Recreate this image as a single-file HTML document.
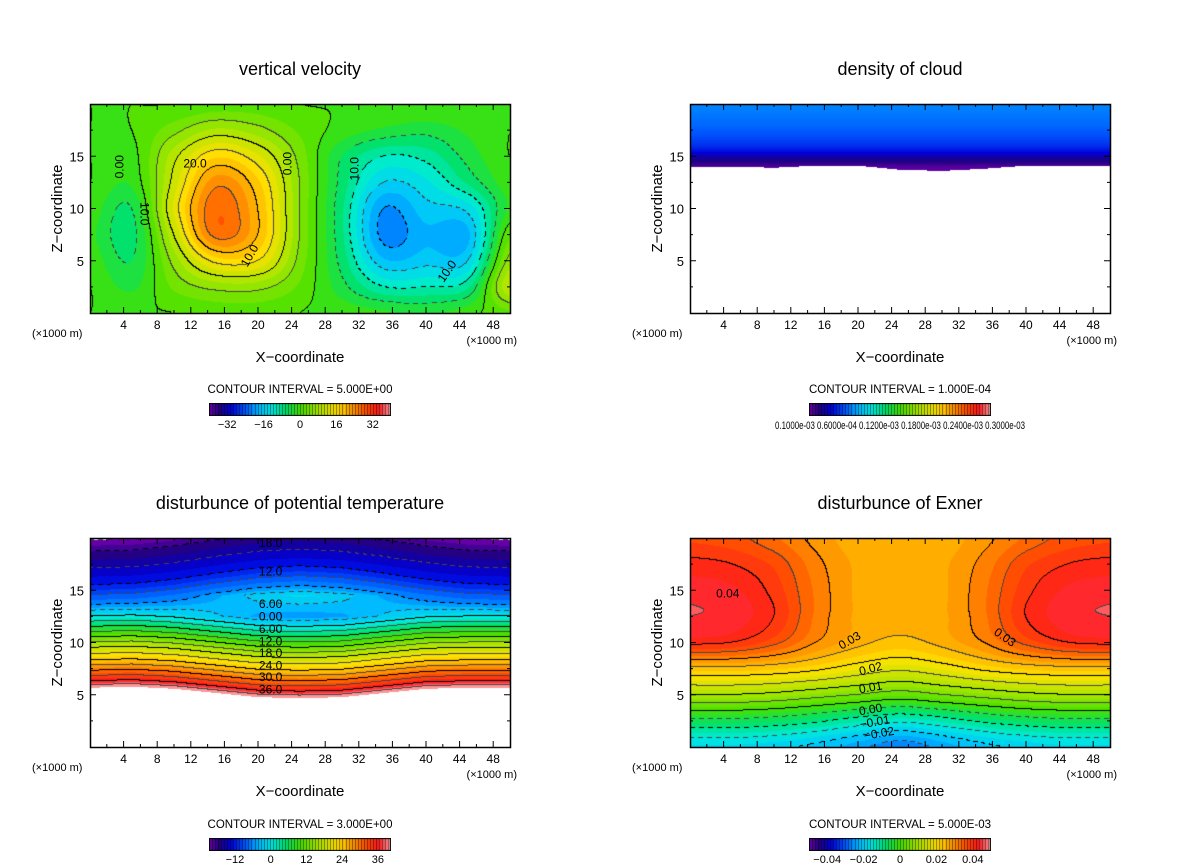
<!DOCTYPE html>
<html><head><meta charset="utf-8">
<style>
html,body{margin:0;padding:0;background:#fff;}
#root{position:relative;width:1200px;height:868px;overflow:hidden;font-family:"Liberation Sans",sans-serif;}
canvas{position:absolute;}
svg{position:absolute;left:0;top:0;}
</style></head>
<body>
<div id="root">
<canvas id="c0" width="420" height="209" style="left:90px;top:104px"></canvas>
<canvas id="c1" width="420" height="209" style="left:690px;top:104px"></canvas>
<canvas id="c2" width="420" height="209" style="left:90px;top:538px"></canvas>
<canvas id="c3" width="420" height="209" style="left:690px;top:538px"></canvas>
<canvas id="cb0" width="182" height="13" style="left:209px;top:403px"></canvas>
<canvas id="cb1" width="182" height="13" style="left:809px;top:403px"></canvas>
<canvas id="cb2" width="182" height="13" style="left:209px;top:838px"></canvas>
<canvas id="cb3" width="182" height="13" style="left:809px;top:838px"></canvas>
<svg id="ov" width="1200" height="868"></svg>
</div>
<script>
// ---------- data ----------
const xCoords=[0,5,10,15,20,25,30,35,40,45,50];
const zRows=[20,17.5,15,12.5,10,7.5,5,2.5,0];
const wGrid=[
[0,0,0,1,1,0,0,0,0,0,0],
[0,0,4,8,6,2,-1,-3,-4,-2,0],
[0,-1,9,17,13,4,-5,-10,-9,-4,0],
[0,-2,11,24,18,5,-6,-15,-13,-7,-1],
[-1,-5,13,27,20,5,-7,-20,-16,-14,-2],
[-2,-6,10,26,20,5,-7,-21,-18,-18,2],
[-1,-5,6,16,15,4,-6,-17,-16,-15,6],
[0,-3,3,6,6,2,-4,-10,-10,-8,10],
[0,0,0,1,1,0,-1,-2,-3,-1,2]];
const exGrid=[
[.037,.036,.033,.029,.026,.025,.026,.029,.033,.036,.037],
[.041,.040,.037,.031,.027,.026,.027,.031,.037,.040,.041],
[.044,.043,.039,.032,.027,.026,.027,.032,.039,.043,.044],
[.045,.044,.040,.032,.027,.026,.027,.032,.040,.044,.045],
[.041,.040,.036,.030,.026,.024,.026,.030,.036,.040,.041],
[.024,.024,.023,.021,.018,.016,.018,.021,.023,.024,.024],
[.010,.010,.009,.007,.005,.003,.005,.007,.009,.010,.010],
[-.006,-.006,-.007,-.009,-.012,-.014,-.012,-.009,-.007,-.006,-.006],
[-.018,-.018,-.019,-.021,-.024,-.027,-.024,-.021,-.019,-.018,-.018]];
const thProfZ=[0,4.5,5.8,6.3,7.3,8.3,9.5,10.5,11.5,12.5,13.6,15.5,18.7,20];
const thProfV=[60,45,40,36,30,24,18,12,6,0,-6,-12,-18,-21.5];
const thShiftLow=[0,-0.1,0.1,0.5,0.9,1.0,0.9,0.5,0.1,0,0];
const thShiftUp=[0,-0.1,-0.5,-1.1,-1.6,-1.8,-1.6,-1.1,-0.5,-0.1,0];
const cloudProfZ=[13.9,14.5,15,15.5,16,17,18,19,20];
const cloudProfV=[0.05,0.2,0.3,0.45,0.55,0.65,0.72,0.76,0.8];
const cloudBase=[14.0,14.0,13.9,14.1,14.1,13.7,13.6,13.8,14.1,14.1,14.1];
const xTicks=[4,8,12,16,20,24,28,32,36,40,44,48];
const zTicks=[5,10,15];
// ---------- helpers ----------
const stops=[[0,[110,0,170]],[0.06,[30,0,130]],[0.12,[0,0,220]],[0.2,[0,90,255]],[0.28,[0,190,255]],[0.35,[0,235,220]],[0.42,[0,225,110]],[0.5,[70,225,0]],[0.6,[170,230,0]],[0.7,[255,225,0]],[0.78,[255,160,0]],[0.86,[255,80,0]],[0.93,[255,25,30]],[1,[255,170,170]]];
function cmap(t){if(t<0)t=0;if(t>1)t=1;for(let i=1;i<stops.length;i++){if(t<=stops[i][0]){const a=stops[i-1],b=stops[i],f=(t-a[0])/(b[0]-a[0]);return a[1].map((v,j)=>Math.round(v+(b[1][j]-v)*f));}}return stops[stops.length-1][1];}
function interp1(xs,ys,x){if(x<=xs[0])return ys[0];for(let i=1;i<xs.length;i++){if(x<=xs[i]){const f=(x-xs[i-1])/(xs[i]-xs[i-1]);return ys[i-1]+(ys[i]-ys[i-1])*f;}}return ys[ys.length-1];}
function cr(p0,p1,p2,p3,t){return 0.5*((2*p1)+(-p0+p2)*t+(2*p0-5*p1+4*p2-p3)*t*t+(-p0+3*p1-3*p2+p3)*t*t*t);}
function bic(grid,x,z){const nr=grid.length,nc=grid[0].length;let fi=x/5;let i=Math.min(nc-2,Math.floor(fi));let fx=fi-i;let fj=(20-z)/2.5;let j=Math.min(nr-2,Math.floor(fj));let fz=fj-j;
 const g=(r,c)=>grid[Math.max(0,Math.min(nr-1,r))][Math.max(0,Math.min(nc-1,c))];
 const rows=[];for(let r=-1;r<=2;r++)rows.push(cr(g(j+r,i-1),g(j+r,i),g(j+r,i+1),g(j+r,i+2),fx));
 return cr(rows[0],rows[1],rows[2],rows[3],fz);}
const W=420,H=209;
function xOf(px){return px/W*50;} function zOf(py){return (H-py)/H*20;}
function render(id,fn,interval,vmin,vmax,lines,whiteOut){
  const cv=document.getElementById(id),ctx=cv.getContext('2d'),img=ctx.createImageData(W,H);
  const vals=new Float32Array(W*H);const fi=interval/2;
  for(let py=0;py<H;py++)for(let px=0;px<W;px++)vals[py*W+px]=fn(xOf(px+0.5),zOf(py+0.5));
  for(let py=0;py<H;py++)for(let px=0;px<W;px++){
    const v=vals[py*W+px];let col;
    if(isNaN(v)){col=[255,255,255];}
    else{const kf=Math.floor(v/fi);const t=((kf+0.5)*fi-vmin)/(vmax-vmin);
      col=(whiteOut&&(t>1||t<0))?[255,255,255]:cmap(t);
      const k=Math.floor(v/interval);
      if(lines){const kr=px<W-1?Math.floor(vals[py*W+px+1]/interval):k;const kb=py<H-1?Math.floor(vals[(py+1)*W+px]/interval):k;
        if(!isNaN(kr)&&!isNaN(kb)&&(kr!==k||kb!==k)){const kk=Math.max(k,kr,kb);const lvl=kk*interval;
          if(!(whiteOut&&((lvl-vmin)/(vmax-vmin)>1.0)))
          if(lvl>=-1e-9||((px+py)%9<5)){const m=(kk%2===0)?0:70;col=[m,m,m];}}}}
    const o=(py*W+px)*4;img.data[o]=col[0];img.data[o+1]=col[1];img.data[o+2]=col[2];img.data[o+3]=255;}
  ctx.putImageData(img,0,0);
}
render('c0',(x,z)=>bic(wGrid,x,z),5,-40,40,true,false);
render('c3',(x,z)=>bic(exGrid,x,z),0.005,-0.05,0.05,true,false);
render('c2',(x,z)=>{const sl=interp1(xCoords,thShiftLow,x),su=interp1(xCoords,thShiftUp,x);let f=(z-12.5)/2;f=Math.max(0,Math.min(1,f));return interp1(thProfZ,thProfV,z+sl*(1-f)+su*f);},3,-20.7,40.4,true,true);
render('c1',(x,z)=>{const b=interp1(xCoords,cloudBase,x);if(z<b)return NaN;return interp1(cloudProfZ,cloudProfV,z)*1e-4;},0.1e-5,0,3.4e-4,false,false);
function cbar(id){const cv=document.getElementById(id),ctx=cv.getContext('2d');const n=60;
  for(let i=0;i<n;i++){const c=cmap((i+0.5)/n);ctx.fillStyle='rgb('+c+')';ctx.fillRect(i*182/n,0,182/n+1,13);ctx.fillStyle='rgba(0,0,0,0.5)';ctx.fillRect(Math.round(i*182/n),0,1,13);}
  ctx.strokeStyle='#000';ctx.strokeRect(0.5,0.5,181,12);}
['cb0','cb1','cb2','cb3'].forEach(cbar);
// ---------- overlay ----------
const ns='http://www.w3.org/2000/svg',ov=document.getElementById('ov');
function el(tag,attrs,txt){const e=document.createElementNS(ns,tag);for(const k in attrs)e.setAttribute(k,attrs[k]);if(txt!==undefined)e.textContent=txt;ov.appendChild(e);return e;}
const panels=[
 {x0:90,y0:104,title:'vertical velocity',ci:'CONTOUR INTERVAL = 5.000E+00',cbx:209,cby:403,cbl:[['−32',-32],['−16',-16],['0',0],['16',16],['32',32]],cbr:[-40,40]},
 {x0:690,y0:104,title:'density of cloud',ci:'CONTOUR INTERVAL = 1.000E-04',cbx:809,cby:403,cbl:null,cbr:[0,1]},
 {x0:90,y0:538,title:'disturbunce of potential temperature',ci:'CONTOUR INTERVAL = 3.000E+00',cbx:209,cby:838,cbl:[['−12',-12],['0',0],['12',12],['24',24],['36',36]],cbr:[-20.7,40.4]},
 {x0:690,y0:538,title:'disturbunce of Exner',ci:'CONTOUR INTERVAL = 5.000E-03',cbx:809,cby:838,cbl:[['−0.04',-0.04],['−0.02',-0.02],['0',0],['0.02',0.02],['0.04',0.04]],cbr:[-0.05,0.05]}];
const names=['velocity','cloud','theta','exner'];
panels.forEach((p,pi)=>{
  const cx=p.x0+210,X=v=>p.x0+v/50*W,Y=v=>p.y0+H-v/20*H;
  let e;
  e=el('text',{x:cx,y:p.y0-29,'text-anchor':'middle','font-size':18,fill:'#000'},p.title);
  
  
  e=el('rect',{x:p.x0+0.5,y:p.y0+0.5,width:W,height:H,fill:'none',stroke:'#000','stroke-width':1.5});
  
  
  for(let v=2;v<50;v+=2){const maj=v%4===0;const L=maj?6:3;
    el('line',{x1:X(v),x2:X(v),y1:p.y0+H,y2:p.y0+H-L,stroke:'#000'});
    el('line',{x1:X(v),x2:X(v),y1:p.y0,y2:p.y0+L,stroke:'#000'});}
  xTicks.forEach(v=>{e=el('text',{x:X(v),y:p.y0+H+16,'text-anchor':'middle','font-size':12},String(v));
    
    });
  for(let v=2.5;v<20;v+=2.5){const maj=v%5===0;const L=maj?6:3;
    el('line',{x1:p.x0,x2:p.x0+L,y1:Y(v),y2:Y(v),stroke:'#000'});
    el('line',{x1:p.x0+W,x2:p.x0+W-L,y1:Y(v),y2:Y(v),stroke:'#000'});}
  zTicks.forEach(v=>{e=el('text',{x:p.x0-6,y:Y(v)+5,'text-anchor':'end','font-size':13},String(v));
    
    });
  e=el('text',{x:p.x0-58,y:p.y0+H+24,'font-size':11},'(×1000 m)');
  
  
  e=el('text',{x:p.x0+W+7,y:p.y0+H+31,'text-anchor':'end','font-size':11},'(×1000 m)');
  
  
  e=el('text',{x:cx,y:p.y0+H+49,'text-anchor':'middle','font-size':15},'X−coordinate');
  
  
  e=el('text',{x:p.x0-28,y:p.y0+H/2,'text-anchor':'middle','font-size':15,transform:'rotate(-90 '+(p.x0-28)+' '+(p.y0+H/2)+')'},'Z−coordinate');
  
  
  e=el('text',{x:cx,y:p.cby-10,'text-anchor':'middle','font-size':11.5},p.ci);
  
  
  if(p.cbl){p.cbl.forEach(l=>{const t=(l[1]-p.cbr[0])/(p.cbr[1]-p.cbr[0]);
    e=el('text',{x:p.cbx+t*182,y:p.cby+25,'text-anchor':'middle','font-size':11},l[0]);
    
    });}
  else{e=el('text',{x:p.cbx+91,y:p.cby+26,'text-anchor':'middle','font-size':11,textLength:250,lengthAdjust:'spacingAndGlyphs'},'0.1000e-03 0.6000e-04 0.1200e-03 0.1800e-03 0.2400e-03 0.3000e-03');
    
    }
});
// contour labels
const cl=[[0,'20.0',12.5,14.3,0],[0,'10.0',19,5.5,-60],[0,'0.00',3.5,14,-90],[0,'0.00',23.5,14.3,-90],[0,'10.0',31.5,13.8,-90],[0,'10.0',42.5,4,-55],[0,'10.0',6.5,9.5,90],
 [2,'18.0',21.5,19.5,0],[2,'12.0',21.5,16.8,0],[2,'6.00',21.5,13.7,0],[2,'0.00',21.5,12.5,0],[2,'6.00',21.5,11.3,0],[2,'12.0',21.5,10.1,0],[2,'18.0',21.5,9,0],[2,'24.0',21.5,7.8,0],[2,'30.0',21.5,6.7,0],[2,'36.0',21.5,5.5,0],
 [3,'0.04',4.5,14.7,0],[3,'0.03',19,10.2,-30],[3,'0.03',37.5,10.5,35],[3,'0.02',21.5,7.5,-15],[3,'0.01',21.5,5.7,-10],[3,'0.00',21.5,3.6,-10],[3,'0.01',22,2.4,-10],[3,'0.02',22.5,1.3,-10]];
cl.forEach(c=>{const p=panels[c[0]];const x=p.x0+c[2]/50*W,y=p.y0+H-c[3]/20*H;
  const e=el('text',{x:x,y:y+4,'text-anchor':'middle','font-size':12,transform:'rotate('+c[4]+' '+x+' '+y+')'},(c[0]===3&&c[3]<3?'−':'')+c[1]);
  
  });
</script>
</body></html>
